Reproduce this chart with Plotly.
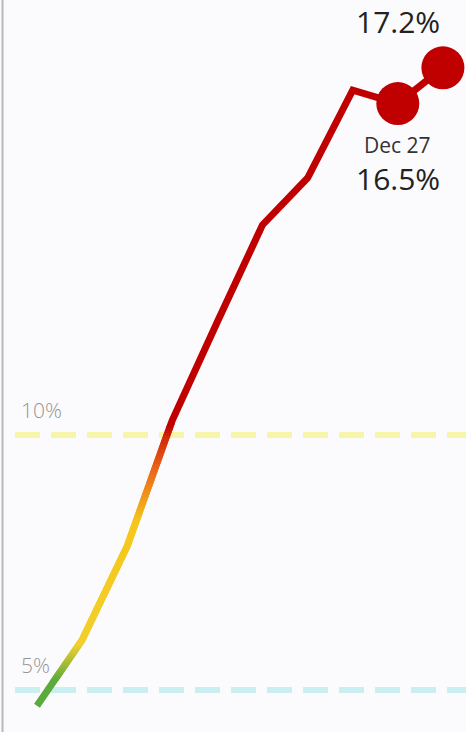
import numpy as np
import pandas as pd
import plotly.graph_objects as go
from plotly.colors import sample_colorscale

# --- datos ---
dates = pd.date_range("2020-12-19", periods=10, freq="D")
rate = [4.69, 5.98, 7.82, 10.29, 12.22, 14.12, 15.04, 16.76, 16.5, 17.2]
ref_levels = [10, 5]
ref_labels = ["10%", "5%"]
ref_colors = ["#f7f5a9", "#c9eff0"]

# escala de color por valor (verde -> amarillo -> naranja -> rojo)
stops = [(5.2, "#5aaa3c"), (5.9, "#f2cf2c"), (8.3, "#f5c71a"), (9.3, "#ea6a1a"),
         (9.95, "#d42a08"), (10.2, "#c00000")]
cs = [[(v - stops[0][0]) / (stops[-1][0] - stops[0][0]), c] for v, c in stops]

W, H = 466, 732
y_lo, y_hi = 4.176, 18.53
x_lo = dates[0] - pd.Timedelta(days=0.82)
x_hi = dates[0] + pd.Timedelta(days=9.512)
RED = "#c00000"


def dom(v):
    return (v - y_lo) / (y_hi - y_lo)


# bandas horizontales: cada una dibuja la misma linea con su color
edges = [y_lo] + list(np.round(np.arange(5.2, 10.2001, 0.05), 3)) + [y_hi]
eps = 0.02

fig = go.Figure()
layout_axes = {}
for k in range(len(edges) - 1):
    a, b = edges[k], edges[k + 1]
    a2, b2 = max(y_lo, a - eps), min(y_hi, b + eps)
    mid = (a + b) / 2
    t = min(max((mid - stops[0][0]) / (stops[-1][0] - stops[0][0]), 0), 1)
    col = sample_colorscale(cs, [t])[0]
    name = f"yaxis{k + 2}"
    layout_axes[name] = dict(domain=[dom(a2), dom(b2)], range=[a2, b2],
                             anchor="x", visible=False, fixedrange=True)
    fig.add_trace(go.Scatter(x=dates, y=rate, mode="lines", xaxis="x", yaxis=f"y{k + 2}",
                             line=dict(color=col, width=7), showlegend=False,
                             hoverinfo="skip"))

top = f"y{len(edges)}"
fig.add_trace(go.Scatter(x=dates[8:], y=rate[8:], mode="markers", xaxis="x", yaxis=top,
                         marker=dict(size=43, color=RED), showlegend=False,
                         cliponaxis=False))

# lineas de referencia
for lv, lab, c in zip(ref_levels, ref_labels, ref_colors):
    fig.add_shape(type="line", xref="paper", yref="y", x0=15 / W, x1=1, y0=lv, y1=lv,
                  line=dict(color=c, width=6, dash="25px,11px"), layer="below")
    fig.add_annotation(x=19 / W, xref="paper", y=lv, yref="y", text=lab, showarrow=False,
                       xanchor="left", yanchor="bottom", yshift=9,
                       font=dict(family="Open Sans", size=21, color="#959595", weight=300))

# borde izquierdo
fig.add_shape(type="line", xref="paper", yref="paper", x0=2.5 / W, x1=2.5 / W, y0=0, y1=1,
              line=dict(color="#b8b8bc", width=2))

# etiquetas
fig.add_annotation(x=dates[8], y=rate[8], yref="y", text="Dec 27", showarrow=False,
                   yanchor="middle", yshift=-41,
                   font=dict(family="Open Sans", size=21, color="#333333"))
fig.add_annotation(x=dates[8], y=rate[8], yref="y", text="16.5%", showarrow=False,
                   yanchor="middle", yshift=-75,
                   font=dict(family="Open Sans", size=30, color="#222222"))
fig.add_annotation(x=dates[9], y=1, yref="paper", text="17.2%", showarrow=False,
                   yanchor="top", xshift=-45, borderpad=0,
                   font=dict(family="Open Sans", size=30, color="#222222"))

fig.update_layout(
    width=W, height=H,
    margin=dict(l=0, r=0, t=0, b=0),
    paper_bgcolor="#fbfbfd",
    plot_bgcolor="rgba(0,0,0,0)",
    xaxis=dict(range=[x_lo, x_hi], visible=False, anchor="y", fixedrange=True),
    yaxis=dict(range=[y_lo, y_hi], domain=[0, 1], visible=False, fixedrange=True),
    showlegend=False,
    **layout_axes,
)

fig.write_html("out.html", config={"displayModeBar": False},
               post_script="document.body.style.margin='0';")
